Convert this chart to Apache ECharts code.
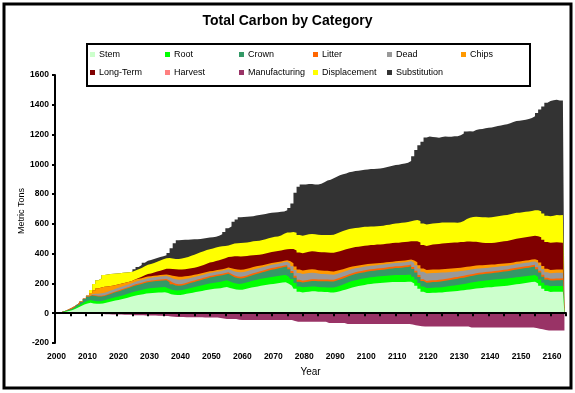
<!DOCTYPE html>
<html>
<head>
<meta charset="utf-8">
<script src="https://cdn.jsdelivr.net/npm/echarts@6/dist/echarts.min.js"></script>
<style>html,body{margin:0;padding:0;background:#fff;}#c{width:575px;height:393px;}</style>
</head>
<body>
<div id="c"></div>
<script>
// Categories: years 2000..2164
const years = [];
for (let y = 2000; y <= 2164; y++) years.push(String(y));

const stem = [0,3,6,10,15,20,28,38,48,58,
66,70,66,63,63,65,70,75,80,85,
89,94,99,104,110,116,120,124,128,132,
134,136,137,139,140,141,135,128,124,122,
123,126,130,134,138,142,146,150,154,158,
161,164,166,168,172,176,170,164,160,157,
158,162,167,172,176,180,184,188,191,194,
197,200,203,206,208,198,185,165,145,139,
142,145,148,147,145,144,143,142,140,139,
143,148,154,160,166,172,177,182,186,190,
194,197,199,201,203,205,207,208,209,210,
210,210,210,211,212,200,185,165,145,135,
136,137,138,139,140,142,144,146,148,150,
152,154,157,160,163,166,168,170,172,174,
175,177,179,181,183,185,188,191,194,197,
200,203,206,209,212,200,185,165,150,143,
144,145,145,145,145];

const root = [0,1,2,3,4,5,7,9,12,15,
17,18,18,18,18,19,20,21,22,23,
23,24,25,26,27,28,29,30,31,32,
33,33,34,34,34,35,33,31,30,30,
31,32,33,34,35,36,37,38,39,40,
40,41,42,43,44,45,43,41,40,40,
41,42,43,44,45,46,47,47,48,48,
48,49,49,49,49,47,43,38,35,35,
34,33,32,32,31,31,31,31,32,33,
35,37,39,41,43,44,45,45,45,45,
45,45,45,45,45,45,45,46,46,47,
47,47,47,47,47,45,42,38,35,34,
34,34,34,34,35,36,37,38,39,40,
41,42,43,44,45,46,47,47,48,48,
49,49,49,49,49,48,48,47,47,46,
46,46,45,45,45,44,42,40,38,38,
38,38,38,38,38];

const crown = [0,1,2,3,4,5,8,12,16,22,
28,31,31,31,31,31,32,33,35,36,
38,39,40,41,42,42,43,43,44,44,
44,45,45,45,45,45,40,35,32,32,
33,34,35,36,37,38,39,40,41,42,
42,43,43,44,44,44,40,37,36,37,
38,39,40,41,42,43,44,46,48,50,
51,52,53,55,56,50,42,35,32,32,
33,35,36,37,38,39,40,41,41,41,
41,41,41,41,41,41,41,41,41,41,
41,41,41,42,42,42,43,44,45,46,
47,49,51,53,56,52,46,40,36,36,
37,38,38,39,40,40,41,41,42,42,
43,43,44,44,44,45,45,45,45,45,
45,45,46,47,48,49,50,52,53,54,
54,55,55,56,56,52,46,40,38,38,
38,39,39,40,40];

const litter = [0,0,0,1,3,6,6,3,2,3,
3,4,5,5,5,5,5,6,6,6,
7,7,7,7,7,8,8,8,8,8,
8,8,8,8,9,9,11,12,12,11,
10,10,10,10,10,10,10,10,10,10,
10,10,10,10,10,10,11,11,11,11,
11,11,11,11,11,11,11,11,11,11,
11,11,11,11,11,12,13,13,13,12,
12,12,12,12,12,12,12,12,12,12,
12,12,12,12,12,12,12,12,12,12,
12,12,12,12,12,12,12,12,12,12,
12,12,12,12,12,13,13,13,12,12,
12,12,12,12,12,12,12,12,12,12,
12,12,12,12,12,12,12,12,12,12,
12,12,12,12,12,12,12,12,12,12,
12,12,12,12,12,13,13,13,12,12,
12,12,12,12,12];

const dead = [0,0,0,0,0,0,0,0,0,0,
2,5,10,14,17,18,18,18,17,17,
17,17,17,17,17,18,18,18,18,19,
19,19,19,20,20,20,24,28,30,30,
29,28,26,25,24,23,22,21,21,20,
20,20,20,20,20,21,24,28,30,30,
29,28,27,26,25,24,23,22,22,22,
22,21,21,21,21,26,33,40,45,46,
46,45,44,42,40,38,37,36,35,34,
33,32,31,30,29,28,27,26,25,25,
24,24,24,23,23,23,23,23,23,23,
23,23,23,23,23,28,36,44,50,50,
50,49,48,47,46,44,42,40,38,36,
35,34,33,32,31,30,29,28,27,27,
27,27,26,26,25,25,24,24,24,23,
23,23,23,23,23,28,34,38,38,38,
38,38,37,36,35];

const chips = [0,0,0,0,0,0,0,0,0,0,
2,8,22,35,38,40,35,30,27,25,
23,21,19,17,15,14,13,12,12,12,
11,11,11,10,10,10,14,18,20,20,
19,18,16,15,14,13,13,12,12,12,
11,11,11,11,11,11,14,16,17,17,
17,16,16,16,16,15,14,13,12,12,
12,11,11,11,11,16,20,23,23,23,
23,23,23,23,23,23,23,23,22,22,
21,20,19,18,17,16,16,15,15,15,
14,14,13,13,12,12,12,11,11,11,
11,11,11,11,11,16,20,23,23,23,
23,23,23,23,23,23,23,23,23,23,
23,23,23,22,22,22,21,20,20,19,
19,18,18,17,17,16,16,15,15,15,
15,15,15,15,15,18,20,22,22,22,
22,22,22,22,22];

const longTerm = [0,0,0,0,0,0,0,0,0,0,
0,0,0,0,0,0,0,0,0,0,
0,0,0,0,0,3,6,10,14,17,
18,22,26,30,34,38,42,45,47,49,
49,48,48,48,47,48,50,53,56,58,
60,62,64,66,68,70,78,85,88,89,
89,86,83,80,76,73,73,74,74,74,
74,74,74,74,74,82,95,108,114,116,
118,120,121,122,123,123,123,123,124,125,
126,127,127,127,127,126,126,125,125,125,
125,125,125,125,125,125,125,125,125,125,
124,124,124,123,123,130,142,152,157,162,
165,168,170,171,172,173,173,173,173,172,
172,171,170,167,163,159,155,151,148,146,
145,146,147,148,149,150,152,154,156,156,
157,157,157,157,157,162,170,176,180,182,
183,183,182,181,180];

const harvest = [];

const manufacturing = [0,0,0,0,0,0,0,0,0,0,
0,0,0,0,-6,-6,-7,-7,-8,-8,
-9,-9,-10,-10,-10,-13,-13,-14,-14,-15,
-15,-16,-16,-17,-17,-18,-18,-22,-24,-25,
-26,-26,-27,-27,-27,-27,-27,-27,-28,-28,
-28,-28,-28,-32,-36,-38,-38,-38,-38,-44,
-45,-45,-45,-45,-45,-45,-45,-45,-45,-45,
-45,-45,-45,-45,-45,-45,-45,-52,-58,-58,
-58,-58,-58,-58,-58,-58,-58,-58,-66,-66,
-66,-66,-66,-66,-72,-72,-72,-72,-72,-72,
-72,-72,-72,-72,-72,-72,-72,-72,-72,-72,
-72,-72,-72,-72,-72,-76,-80,-84,-88,-90,
-90,-90,-90,-90,-90,-90,-90,-90,-90,-90,
-90,-90,-90,-90,-96,-96,-96,-96,-96,-96,
-96,-96,-96,-96,-96,-96,-96,-96,-96,-96,
-96,-96,-96,-96,-96,-100,-104,-107,-112,-116,
-116,-116,-116,-116,-116];

const displacement = [0,0,0,0,0,0,0,0,0,0,
0,20,45,55,62,78,80,80,78,75,
71,69,66,63,60,58,58,59,60,62,
63,64,66,68,70,72,72,71,70,70,
74,76,80,84,88,91,92,92,91,90,
90,90,90,88,82,78,82,86,88,90,
90,91,92,93,94,94,95,96,97,97,
98,98,100,106,112,112,114,118,118,118,
118,117,116,115,115,116,117,118,119,121,
124,127,129,130,130,130,129,128,128,127,
126,125,124,123,123,124,125,126,128,129,
130,131,132,133,134,138,142,145,145,144,
143,142,141,141,141,140,138,136,134,133,
133,140,150,160,166,168,170,171,172,172,
173,174,175,175,175,175,174,174,173,172,
171,170,170,170,172,174,175,176,176,178,
180,182,183,185,186];

const substitution = [0,0,0,0,0,0,0,0,0,0,
0,0,0,0,0,0,0,0,0,0,
0,0,0,0,0,8,16,20,24,26,
28,27,25,23,21,20,34,68,105,126,
124,121,116,109,103,96,90,86,81,78,
77,73,74,80,94,115,120,147,160,173,
173,173,170,169,171,174,172,170,168,166,
163,162,159,151,150,163,192,269,325,344,
339,338,336,334,337,343,354,365,372,380,
382,383,382,380,381,381,382,383,383,383,
384,385,386,387,387,388,389,390,391,393,
393,395,396,397,405,432,470,508,548,585,
587,581,578,573,575,577,576,577,579,581,
585,588,589,581,574,583,588,593,598,602,
602,604,606,606,608,610,612,615,617,617,
618,619,621,625,631,653,684,718,759,775,
775,774,770,770,768];

const yTicks = { min: -200, max: 1600, step: 200 };

const FONT = 'Liberation Sans';

// Positive layers, bottom to top
const layers = [
  { name: 'Stem', data: stem, color: '#CCFFCC' },
  { name: 'Root', data: root, color: '#00FF00' },
  { name: 'Crown', data: crown, color: '#339966' },
  { name: 'Litter', data: litter, color: '#FF6600' },
  { name: 'Dead', data: dead, color: '#999999' },
  { name: 'Chips', data: chips, color: '#FF9900' },
  { name: 'Long-Term', data: longTerm, color: '#800000' },
  { name: 'Harvest', data: harvest, color: '#FF8080' },
  { name: 'Displacement', data: displacement, color: '#FFFF00' },
  { name: 'Substitution', data: substitution, color: '#333333' }
];

function area(name, data, color) {
  return {
    name: name, type: 'line', data: data, step: 'middle',
    symbol: 'none', showSymbol: false, color: color,
    lineStyle: { width: 0, opacity: 0 },
    areaStyle: { color: color, opacity: 1 },
    itemStyle: { color: color },
    silent: true, animation: false, z: 2
  };
}

// Cumulative tops so that each layer is painted over the one above it (no seams)
const running = years.map(() => 0);
const built = layers.map(l => {
  if (!l.data.length) return area(l.name, [], l.color);
  const cum = years.map((_, i) => { running[i] += (l.data[i] || 0); return running[i]; });
  return area(l.name, cum, l.color);
});
const series = built.slice().reverse();
series.push(area('Manufacturing', manufacturing, '#993366'));

const cols = [
  { x: 90, names: ['Stem', 'Long-Term'] },
  { x: 165, names: ['Root', 'Harvest'] },
  { x: 239, names: ['Crown', 'Manufacturing'] },
  { x: 313, names: ['Litter', 'Displacement'] },
  { x: 387, names: ['Dead', 'Substitution'] },
  { x: 461, names: ['Chips'] }
];
const legends = cols.map(c => ({
  data: c.names, orient: 'vertical', left: c.x, top: 50, padding: 0,
  itemGap: 9, itemWidth: 5, itemHeight: 5, icon: 'rect', selectedMode: false,
  textStyle: { fontSize: 9, fontFamily: FONT, color: '#000', padding: [0, 0, 0, -1] }
}));

const chart = echarts.init(document.getElementById('c'), null, { renderer: 'canvas' });
chart.setOption({
  animation: false,
  backgroundColor: '#fff',
  title: {
    text: 'Total Carbon by Category', left: 'center', top: 14, padding: 0,
    textStyle: { fontSize: 14, fontWeight: 'bold', fontFamily: FONT, color: '#000' }
  },
  legend: legends,
  grid: { left: 55, right: 9, top: 75, bottom: 50, containLabel: false },
  xAxis: [
    {
      type: 'category', data: years, boundaryGap: true,
      axisLine: { show: true, onZero: true, lineStyle: { color: '#000', width: 2 } },
      axisTick: { show: true, interval: 4, length: 3, lineStyle: { color: '#000', width: 2 } },
      axisLabel: { show: false }, splitLine: { show: false }, z: 5
    },
    {
      type: 'category', data: years, boundaryGap: true, position: 'bottom',
      axisLine: { show: false }, axisTick: { show: false }, splitLine: { show: false },
      axisLabel: { show: true, interval: 9, margin: 9, fontSize: 8.5, fontWeight: 'bold', fontFamily: FONT, color: '#000' },
      name: 'Year', nameLocation: 'middle', nameGap: 24,
      nameTextStyle: { fontSize: 10, fontFamily: FONT, color: '#000' }
    }
  ],
  yAxis: {
    type: 'value', min: yTicks.min, max: yTicks.max, interval: yTicks.step,
    axisLine: { show: true, lineStyle: { color: '#000', width: 2 } },
    axisTick: { show: true, length: 3, lineStyle: { color: '#000', width: 2 } },
    axisLabel: { margin: 6, fontSize: 8.5, fontWeight: 'bold', fontFamily: FONT, color: '#000', formatter: v => String(v) },
    splitLine: { show: false }, z: 5
  },
  graphic: [
    { type: 'rect', shape: { x: 4, y: 4, width: 567, height: 384 }, style: { fill: 'none', stroke: '#000', lineWidth: 3 }, silent: true },
    { type: 'rect', shape: { x: 87, y: 44, width: 443, height: 42 }, style: { fill: 'none', stroke: '#000', lineWidth: 2 }, silent: true },
    { type: 'text', x: 22, y: 211, rotation: Math.PI / 2, silent: true,
      style: { text: 'Metric Tons', align: 'center', verticalAlign: 'middle', fontSize: 9, fontFamily: FONT, fill: '#000' } }
  ],
  series: series
});
</script>
</body>
</html>
